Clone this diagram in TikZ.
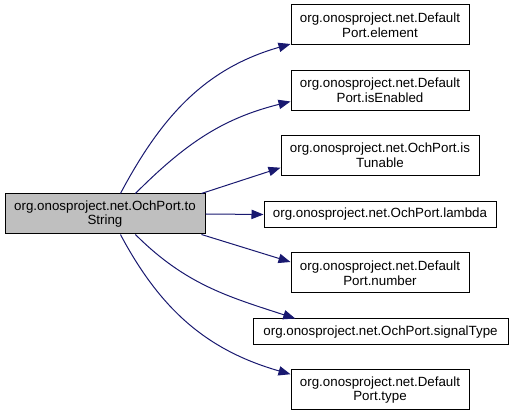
\documentclass[tikz,border=0pt]{standalone}
\usepackage{fontspec}
\setmainfont{Liberation Sans}
\usetikzlibrary{arrows.meta}
\definecolor{midnight}{HTML}{191970}
\definecolor{mainfill}{HTML}{BFBFBF}
\begin{document}
\begin{tikzpicture}[x=0.75pt,y=0.75pt,
  every node/.style={draw=black,line width=0.75pt,align=center,inner sep=0pt,
                     font=\fontsize{10}{11}\selectfont},
  fn/.style={minimum width=133.5pt,minimum height=30pt},
  >={Triangle[length=9pt,width=7pt]},
  call/.style={draw=midnight,line width=0.75pt,->}]
\useasboundingbox (0,0) rectangle (512,-416);
\node[fill=mainfill,minimum width=150pt,minimum height=30pt] (toString) at (105,-214)
  {org.onosproject.net.OchPort.to\\String};
\node[fn] (element)   at (380,-25)  {org.onosproject.net.Default\\Port.element};
\node[fn] (isEnabled) at (380,-90.5) {org.onosproject.net.Default\\Port.isEnabled};
\node[fn,minimum width=148.5pt] (isTunable) at (380,-155.5) {org.onosproject.net.OchPort.is\\Tunable};
\node[minimum width=174pt,minimum height=19pt] (lambda) at (380,-214.5) {org.onosproject.net.OchPort.lambda};
\node[fn] (number)    at (380,-273) {org.onosproject.net.Default\\Port.number};
\node[minimum width=191.25pt,minimum height=19.5pt] (signalType) at (380.5,-332) {org.onosproject.net.OchPort.signalType};
\node[fn] (type)      at (380,-390) {org.onosproject.net.Default\\Port.type};
% calls
\draw[call] (toString.53)  to[out=62,in=196]  (element.192);
\draw[call] (toString.34)  to[out=45,in=194]  (isEnabled.187);
\draw[call] (toString.12)  -- (isTunable.187);
\draw[call] (toString.east) -- (lambda.west);
\draw[call] (toString.-12) -- (number.173);
\draw[call] (toString.-34) to[out=-45,in=162] (signalType.171);
\draw[call] (toString.-53) to[out=-62,in=164] (type.170);
\end{tikzpicture}
\end{document}
